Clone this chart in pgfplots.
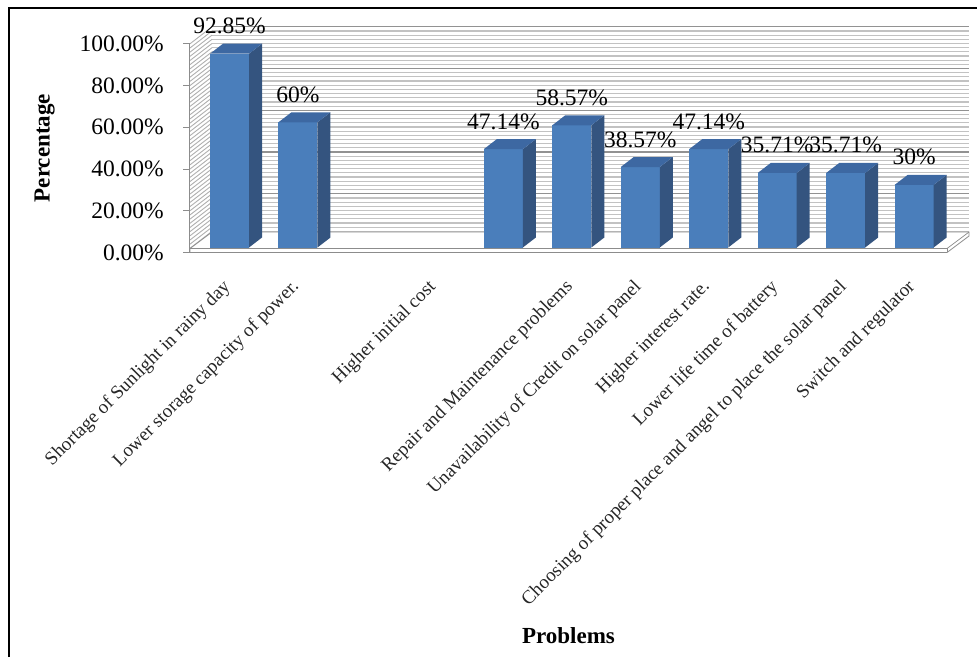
\documentclass[border=0pt]{standalone}
\usepackage{fontspec}
\setmainfont{Liberation Serif}
\usepackage{pgfplots}
\usepackage{pgfplotstable}
\pgfplotsset{compat=1.18}

\definecolor{barfront}{HTML}{4A7EBB}
\definecolor{barside}{HTML}{34547F}
\definecolor{bartop}{HTML}{3D68A2}
\definecolor{gridmajor}{HTML}{929292}
\definecolor{gridminor}{HTML}{C2C2C2}
\definecolor{wallline}{HTML}{8C8C8C}

% share of respondents naming each problem (%)
\pgfplotstableread{
x  v
0  92.85
1  60
4  47.14
5  58.57
6  38.57
7  47.14
8  35.71
9  35.71
10 30
}\problemdata

% 3-D column: the mark sits at the front-top centre of the column,
% \val is the value, 2.087pt per percent
\pgfdeclareplotmark{column3d}{%
  \pgfmathsetmacro\bh{\val*2.087}%
  \pgftransformshift{\pgfpoint{0pt}{5pt}}%
  % front face
  \pgfpathrectanglecorners{\pgfpoint{-19.5pt}{0pt}}{\pgfpoint{19.5pt}{-\bh pt}}%
  \pgfsetfillcolor{barfront}\pgfusepath{fill}%
  % side face
  \pgfpathmoveto{\pgfpoint{19.5pt}{0pt}}%
  \pgfpathlineto{\pgfpoint{32.5pt}{10pt}}%
  \pgfpathlineto{\pgfpoint{32.5pt}{10pt-\bh pt}}%
  \pgfpathlineto{\pgfpoint{19.5pt}{-\bh pt}}%
  \pgfpathclose
  \pgfsetfillcolor{barside}\pgfusepath{fill}%
  % top face
  \pgfpathmoveto{\pgfpoint{-19.5pt}{0pt}}%
  \pgfpathlineto{\pgfpoint{-6.5pt}{10pt}}%
  \pgfpathlineto{\pgfpoint{32.5pt}{10pt}}%
  \pgfpathlineto{\pgfpoint{19.5pt}{0pt}}%
  \pgfpathclose
  \pgfsetfillcolor{bartop}\pgfusepath{fill}%
}

\begin{document}
\begin{tikzpicture}[x=1pt,y=1pt]
\useasboundingbox (0,0) rectangle (977,657);

% back wall with its gridlines
\begin{axis}[
  at={(212pt,421.5pt)}, anchor=south west,
  scale only axis, width=757pt, height=208.7pt,
  xmin=-0.577, xmax=10.48, ymin=0, ymax=100,
  axis line style={draw=none},
  xtick=\empty, ytick={0,20,...,100}, yticklabels={},
  minor y tick num=9,
  major tick length=0pt, minor tick length=0pt,
  ymajorgrids, yminorgrids,
  major grid style={gridmajor, line width=1.3pt},
  minor grid style={gridminor, line width=1.2pt},
]
\end{axis}

% side wall: gridlines running from the front plane to the back wall
\foreach \p in {0,2,...,100} {
  \draw[gridminor!90!black, line width=0.9pt] (190,{404.5+\p*2.087}) -- (212,{421.5+\p*2.087});
}

% floor
\draw[wallline, line width=0.8pt, fill=white]
  (190,404.5) -- (947,404.5) -- (969,421) -- (969,425) -- (212,425) -- (190,408.5) -- cycle;
\draw[wallline, line width=0.7pt] (190,408.5) -- (947,408.5) -- (969,425);
\draw[wallline, line width=0.7pt] (947,408.5) -- (947,404.5);

% frame
\draw[black, line width=1.3pt] (9,0) -- (9,649) -- (977,649);

\begin{axis}[
  at={(190pt,404.5pt)}, anchor=south west,
  scale only axis, width=757pt, height=208.7pt,
  xmin=-0.577, xmax=10.48, ymin=0, ymax=100,
  clip=false,
  axis lines*=left,
  x axis line style={draw=none},
  y axis line style={wallline, line width=1pt},
  tick align=outside, major tick length=7pt,
  ytick={0,20,...,100},
  yticklabels={0.00\%,20.00\%,40.00\%,60.00\%,80.00\%,100.00\%},
  ytick style={wallline, line width=1pt},
  yticklabel style={font=\fontsize{23.5}{28}\selectfont, text=black, anchor=east, inner sep=0pt, xshift=-19pt},
  xtick={0,1,3,5,6,7,8,9,10},
  xticklabels={Shortage of Sunlight in rainy day,
    Lower storage capacity of power.,
    Higher initial cost,
    Repair and Maintenance problems,
    Unavailability of Credit on solar panel,
    Higher interest rate.,
    Lower life time of battery,
    Choosing of proper place and angel to place the solar panel,
    Switch and regulator},
  xtick style={draw=none},
  xticklabel style={font=\fontsize{19}{23}\selectfont, text=black!85, xshift=-1pt, yshift=-24pt, rotate=45, anchor=east, inner sep=1pt},
  ylabel={Percentage},
  ylabel style={font=\fontsize{23}{27}\bfseries, at={(rel axis cs:-0.192,0.5)}, anchor=center},
  xlabel={Problems},
  xlabel style={font=\fontsize{23}{27}\bfseries, at={(rel axis cs:0.5,-1.835)}, anchor=center},
  /pgf/number format/assume math mode=true,
]
\addplot[only marks, mark=column3d,
  visualization depends on={\thisrow{v} \as \val},
  point meta=explicit,
  nodes near coords={\pgfmathprintnumber{\pgfplotspointmeta}\%},
  nodes near coords style={font=\fontsize{23.5}{28}\selectfont, text=black, anchor=base, inner sep=0pt, yshift=20pt},
] table[x=x, y=v, meta=v] {\problemdata};
\end{axis}
\end{tikzpicture}
\end{document}
